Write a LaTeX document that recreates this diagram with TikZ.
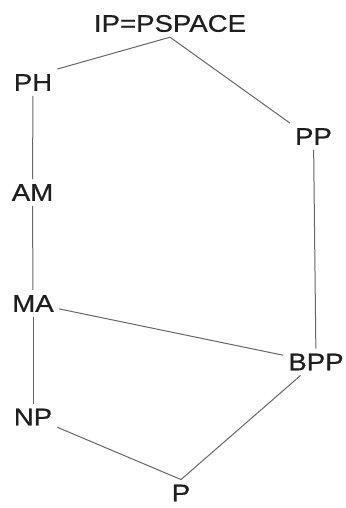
\documentclass[tikz,border=0pt]{standalone}
\usepackage{fontspec}
\setmainfont{Liberation Sans}[FakeStretch=1.15,FakeBold=0.6]
\begin{document}
\begin{tikzpicture}[x=1pt,y=-1pt,
  cls/.style={inner sep=5pt, text=black!88, font=\fontsize{24}{28}\selectfont},
  edge/.style={draw=black!60, line width=1pt}]
\useasboundingbox (0,0) rectangle (345,508);
% complexity classes
\node[cls] (IP)  at (170,23.5) {IP=PSPACE};
\node[cls] (PH)  at (33,82.5)  {PH};
\node[cls] (PP)  at (313.5,136.5) {PP};
\node[cls] (AM)  at (32.5,192.5) {AM};
\node[cls] (MA)  at (33,303.5) {MA};
\node[cls] (BPP) at (316,362)  {BPP};
\node[cls] (NP)  at (33,417)   {NP};
\node[cls] (P)   at (181,493)  {P};
% inclusions
\draw[edge] (IP.south) -- (PH.north east);
\draw[edge] (IP.south) -- (PP.north west);
\draw[edge] (PH) -- (AM);
\draw[edge] (AM) -- (MA);
\draw[edge] (MA) -- (NP);
\draw[edge] (MA) -- (BPP);
\draw[edge] (PP) -- (BPP);
\draw[edge] (NP) -- (P.north);
\draw[edge] (P.north) -- (BPP);
\end{tikzpicture}
\end{document}
